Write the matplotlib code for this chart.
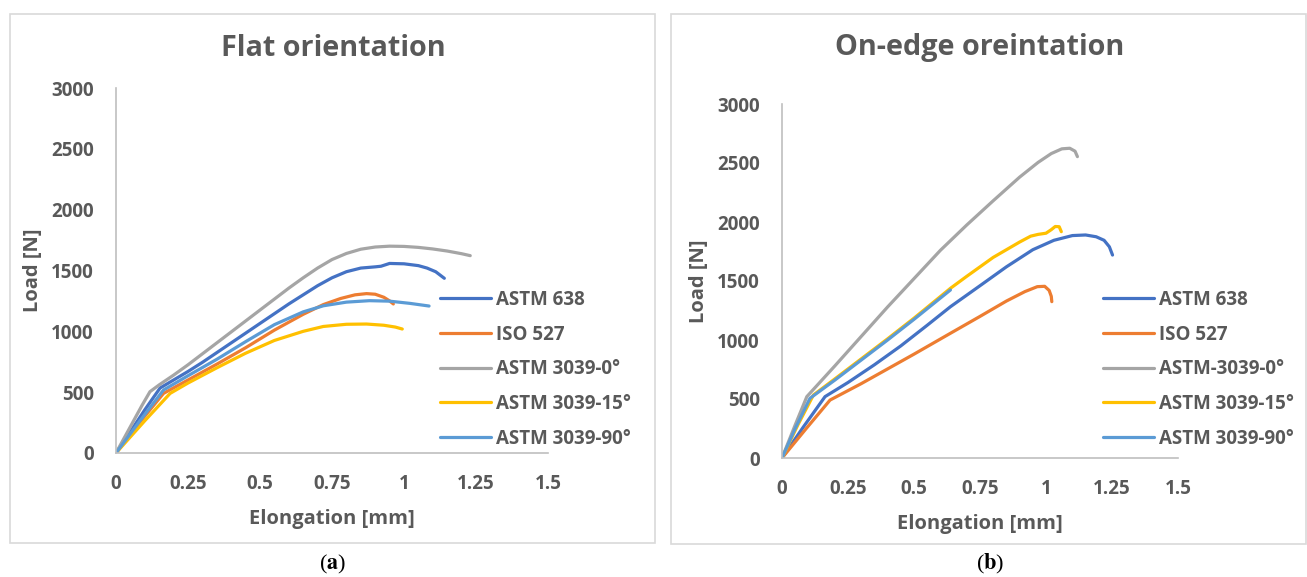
import matplotlib
matplotlib.use("Agg")
import matplotlib.pyplot as plt
from matplotlib.patches import Rectangle

W, H = 1307, 577
plt.rcParams['font.family'] = ['Open Sans', 'DejaVu Sans']
plt.rcParams['mathtext.fontset'] = 'stix'
TXT = '#595959'

series_names_a = ["ASTM 638", "ISO 527", "ASTM 3039-0°", "ASTM 3039-15°", "ASTM 3039-90°"]
series_names_b = ["ASTM 638", "ISO 527", "ASTM-3039-0°", "ASTM 3039-15°", "ASTM 3039-90°"]
colors = ['#4472C4', '#ED7D31', '#A5A5A5', '#FFC000', '#5B9BD5']

xticks = [0, 0.25, 0.5, 0.75, 1, 1.25, 1.5]
xtick_labels = ["0", "0.25", "0.5", "0.75", "1", "1.25", "1.5"]
yticks = [0, 500, 1000, 1500, 2000, 2500, 3000]

# Panel (a) flat orientation
a_638_x = [0, 0.05, 0.10, 0.153, 0.2, 0.25, 0.3, 0.35, 0.4, 0.45, 0.5, 0.55, 0.6, 0.65, 0.7, 0.75, 0.8, 0.85, 0.9, 0.92, 0.95, 1.0, 1.05, 1.08, 1.11, 1.14]
a_638_y = [0, 175, 355, 534, 600, 670, 745, 825, 905, 985, 1065, 1145, 1225, 1300, 1375, 1440, 1490, 1520, 1530, 1535, 1558, 1555, 1540, 1520, 1490, 1436]
a_527_x = [0, 0.08, 0.165, 0.25, 0.35, 0.45, 0.55, 0.65, 0.72, 0.78, 0.83, 0.87, 0.9, 0.93, 0.95, 0.963]
a_527_y = [0, 245, 490, 600, 730, 865, 1010, 1140, 1220, 1270, 1300, 1310, 1305, 1280, 1250, 1225]
a_0_x = [0, 0.03, 0.06, 0.09, 0.118, 0.15, 0.2, 0.25, 0.3, 0.35, 0.4, 0.45, 0.5, 0.55, 0.6, 0.65, 0.7, 0.75, 0.8, 0.85, 0.9, 0.95, 1.0, 1.05, 1.1, 1.15, 1.2, 1.23]
a_0_y = [0, 130, 260, 390, 504, 560, 640, 725, 815, 905, 995, 1085, 1175, 1265, 1355, 1440, 1520, 1590, 1640, 1675, 1693, 1700, 1698, 1690, 1677, 1660, 1638, 1622]
a_15_x = [0, 0.1, 0.188, 0.25, 0.35, 0.45, 0.55, 0.65, 0.72, 0.8, 0.87, 0.93, 0.97, 0.994]
a_15_y = [0, 265, 490, 575, 700, 820, 925, 1000, 1040, 1058, 1060, 1050, 1035, 1019]
a_90_x = [0, 0.08, 0.165, 0.25, 0.35, 0.45, 0.55, 0.65, 0.72, 0.8, 0.88, 0.95, 1.02, 1.087]
a_90_y = [0, 255, 518, 635, 770, 915, 1055, 1160, 1210, 1240, 1252, 1248, 1230, 1208]

# Panel (b) on-edge orientation
b_638_x = [0, 0.08, 0.163, 0.25, 0.35, 0.45, 0.55, 0.638, 0.75, 0.85, 0.95, 1.03, 1.1, 1.15, 1.19, 1.22, 1.24, 1.252]
b_638_y = [0, 260, 520, 640, 790, 950, 1125, 1282, 1460, 1620, 1765, 1845, 1885, 1890, 1875, 1845, 1790, 1720]
b_527_x = [0, 0.09, 0.182, 0.3, 0.4, 0.5, 0.638, 0.75, 0.85, 0.92, 0.967, 0.995, 1.012, 1.02, 1.022]
b_527_y = [0, 245, 491, 630, 755, 880, 1057, 1200, 1330, 1410, 1452, 1455, 1420, 1370, 1325]
b_0_x = [0, 0.05, 0.094, 0.2, 0.3, 0.4, 0.5, 0.6, 0.7, 0.8, 0.9, 0.97, 1.02, 1.06, 1.09, 1.11, 1.119]
b_0_y = [0, 280, 520, 780, 1030, 1280, 1520, 1760, 1975, 2180, 2380, 2505, 2580, 2620, 2625, 2600, 2554]
b_15_x = [0, 0.06, 0.119, 0.2, 0.3, 0.4, 0.5, 0.638, 0.7, 0.8, 0.9, 0.942, 0.97, 1.0, 1.02, 1.035, 1.05, 1.058]
b_15_y = [0, 280, 534, 670, 840, 1010, 1185, 1438, 1540, 1700, 1830, 1880, 1895, 1905, 1935, 1962, 1960, 1918]
b_90_x = [0, 0.05, 0.106, 0.2, 0.3, 0.4, 0.5, 0.638]
b_90_y = [0, 250, 506, 660, 830, 1000, 1175, 1424]

fig = plt.figure(figsize=(W / 100, H / 100), dpi=100)


def fx(px):
    return px / W


def fy(py):
    return 1 - py / H


# panel frames
for (l, t, r, b) in [(10, 14, 655, 543), (671, 14, 1306, 544)]:
    fig.patches.append(Rectangle((fx(l), fy(b)), fx(r) - fx(l), fy(t) - fy(b),
                                 transform=fig.transFigure, fill=False,
                                 edgecolor='#D9D9D9', linewidth=1.2))


def make_axes(l, r, t, b, title, names, data, legend_xy, title_xy):
    ax = fig.add_axes([fx(l), fy(b), fx(r) - fx(l), fy(t) - fy(b)])
    for (xs, ys), c, n in zip(data, colors, names):
        ax.plot(xs, ys, color=c, lw=2.3, label=n, solid_capstyle='round',
                solid_joinstyle='round')
    ax.set_xlim(0, 1.5)
    ax.set_ylim(0, 3000)
    ax.set_xticks(xticks)
    ax.set_xticklabels(xtick_labels)
    ax.set_yticks(yticks)
    for s in ['top', 'right']:
        ax.spines[s].set_visible(False)
    for s in ['left', 'bottom']:
        ax.spines[s].set_color('#BFBFBF')
        ax.spines[s].set_linewidth(1.2)
    ax.tick_params(length=0, labelsize=13.5, labelcolor=TXT)
    ax.tick_params(axis='x', pad=15)
    ax.tick_params(axis='y', pad=16)
    for lab in ax.get_xticklabels() + ax.get_yticklabels():
        lab.set_fontweight('bold')
    ax.set_xlabel("Elongation [mm]", fontsize=14.5, fontweight='bold', color=TXT, labelpad=11)
    ax.set_ylabel("Load [N]", fontsize=14.5, fontweight='bold', color=TXT, labelpad=6)
    fig.text(fx(title_xy[0]), fy(title_xy[1]), title, fontsize=20.7, fontweight='bold',
             color=TXT, ha='center', va='center')
    leg = ax.legend(loc='upper left', bbox_to_anchor=(fx(legend_xy[0]), fy(legend_xy[1])),
                    bbox_transform=fig.transFigure, frameon=False, fontsize=13.5,
                    handlelength=2.7, handletextpad=0.3, labelspacing=0.78,
                    borderpad=0, borderaxespad=0)
    for tx in leg.get_texts():
        tx.set_color(TXT)
        tx.set_fontweight('bold')
    return ax


make_axes(116, 548, 88, 453, "Flat orientation", series_names_a,
          [(a_638_x, a_638_y), (a_527_x, a_527_y), (a_0_x, a_0_y), (a_15_x, a_15_y), (a_90_x, a_90_y)],
          (440, 290), (333, 48))
make_axes(782, 1178, 104, 458, "On-edge oreintation", series_names_b,
          [(b_638_x, b_638_y), (b_527_x, b_527_y), (b_0_x, b_0_y), (b_15_x, b_15_y), (b_90_x, b_90_y)],
          (1103, 290), (980, 48))

for lbl, x in [("a", 333), ("b", 990)]:
    fig.text(fx(x), fy(564), r"($\mathbf{%s}$)" % lbl, fontsize=16, family='Liberation Serif',
             ha='center', va='center', color='black')

fig.savefig("out.png", dpi=100)
